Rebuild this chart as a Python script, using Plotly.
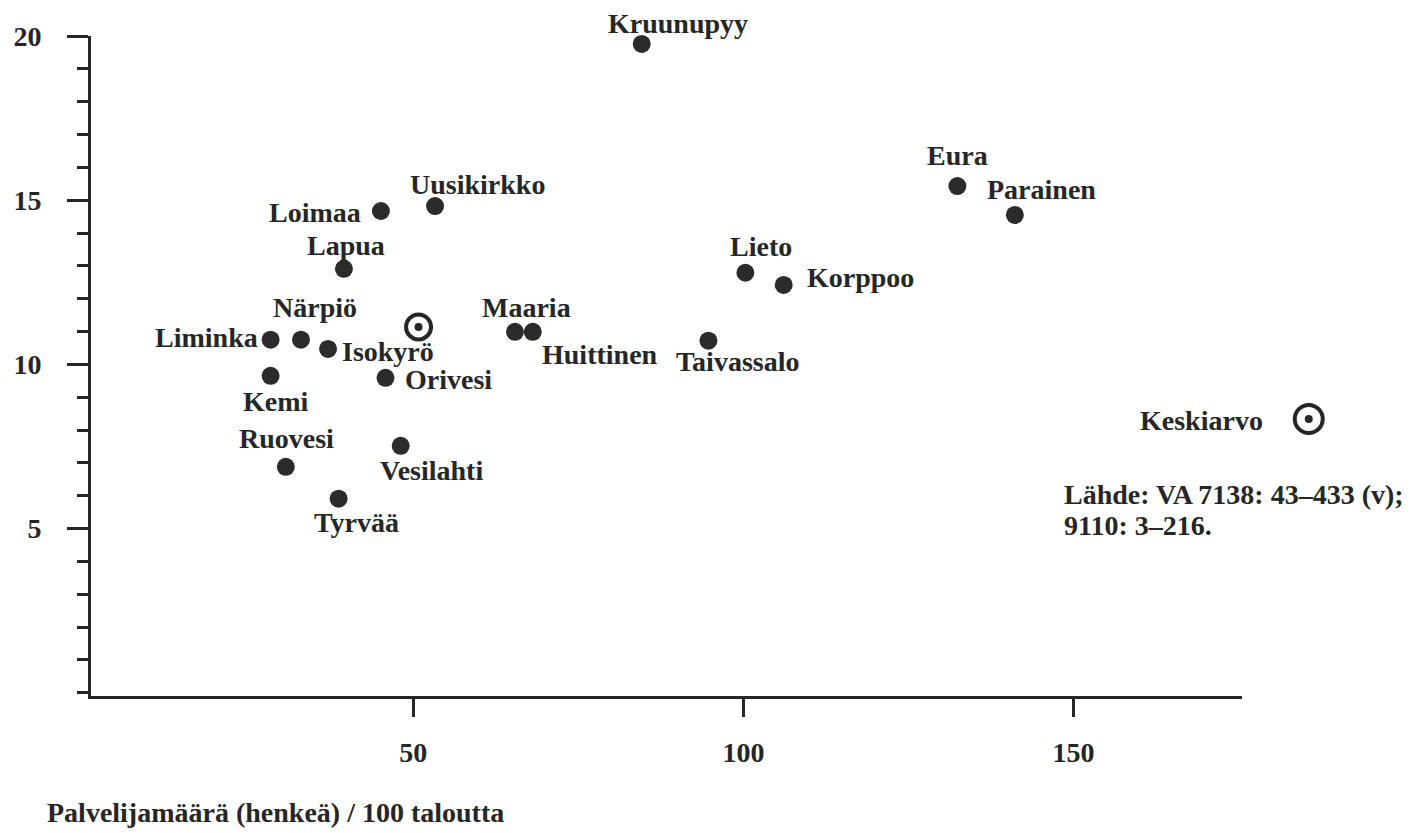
import plotly.graph_objects as go

# kunnat: palvelijamäärä / 100 taloutta (x) ja toinen suhdeluku (y)
kunnat = ["Kruunupyy", "Eura", "Parainen", "Uusikirkko", "Loimaa", "Lapua",
          "Lieto", "Korppoo", "Närpiö", "Liminka", "Isokyrö", "Maaria",
          "Huittinen", "Taivassalo", "Kemi", "Orivesi", "Vesilahti",
          "Ruovesi", "Tyrvää"]
x_arvot = [84.6, 132.4, 141.1, 53.3, 45.1, 39.5, 100.3, 106.1, 33.0, 28.4,
           37.1, 65.4, 68.1, 94.7, 28.4, 45.8, 48.1, 30.7, 38.7]
y_arvot = [19.76, 15.43, 14.55, 14.82, 14.67, 12.91, 12.79, 12.42, 10.75,
           10.75, 10.47, 10.99, 10.99, 10.72, 9.65, 9.59, 7.52, 6.88, 5.91]

keskiarvo_x = [50.8]
keskiarvo_y = [11.14]

x_ticks = [50, 100, 150]
y_ticks = [5, 10, 15, 20]

# label placement: pixel offset from marker + anchor
label_pos = {
    "Kruunupyy": (-35, 20, "left"), "Eura": (0, 31, "center"),
    "Parainen": (-29, 25, "left"), "Uusikirkko": (-26, 22, "left"),
    "Loimaa": (-19, -1, "right"), "Lapua": (-38, 23, "left"),
    "Lieto": (-16, 26, "left"), "Korppoo": (22, 7, "left"),
    "Närpiö": (-29, 32, "left"), "Liminka": (-12, 2, "right"),
    "Isokyrö": (13, -3, "left"), "Maaria": (-34, 24, "left"),
    "Huittinen": (8, -23, "left"), "Taivassalo": (-33, -21, "left"),
    "Kemi": (5, -26, "center"), "Orivesi": (18, -2, "left"),
    "Vesilahti": (-22, -25, "left"), "Ruovesi": (-48, 28, "left"),
    "Tyrvää": (-26, -24, "left"),
}

ink = "#262626"
serif = "Liberation Serif, Times New Roman, serif"
bold = dict(family=serif, size=28, color=ink, weight="bold")

fig = go.Figure()
fig.add_trace(go.Scatter(
    x=x_arvot, y=y_arvot, mode="markers", showlegend=False,
    marker=dict(size=18, color="#2b2b2b"), cliponaxis=False))
# keskiarvo: rengas + piste
fig.add_trace(go.Scatter(
    x=keskiarvo_x, y=keskiarvo_y, mode="markers", showlegend=False,
    marker=dict(size=25, color="white", line=dict(color=ink, width=4)),
    cliponaxis=False))
fig.add_trace(go.Scatter(
    x=keskiarvo_x, y=keskiarvo_y, mode="markers", showlegend=False,
    marker=dict(size=8, color=ink), cliponaxis=False))

for k, xv, yv in zip(kunnat, x_arvot, y_arvot):
    dx, dy, anchor = label_pos[k]
    fig.add_annotation(x=xv, y=yv, text=k, showarrow=False, xshift=dx,
                       yshift=dy, xanchor=anchor, yanchor="middle",
                       borderpad=0, font=bold)

# selite: Keskiarvo + symboli
fig.add_annotation(xref="paper", yref="paper", x=0.9097, y=0.4167,
                   text="Keskiarvo", showarrow=False, xanchor="left",
                   yanchor="middle", font=bold)
fig.add_shape(type="circle", xref="paper", yref="paper", xsizemode="pixel",
              ysizemode="pixel", xanchor=1.058, yanchor=0.4197,
              x0=-14, x1=14, y0=-14, y1=14, line=dict(color=ink, width=4),
              fillcolor="white")
fig.add_shape(type="circle", xref="paper", yref="paper", xsizemode="pixel",
              ysizemode="pixel", xanchor=1.058, yanchor=0.4197,
              x0=-4, x1=4, y0=-4, y1=4, line=dict(width=0), fillcolor=ink)

regular = dict(family=serif, size=28, color=ink)
fig.add_annotation(xref="paper", yref="paper", x=0.8436, y=0.306,
                   text="Lähde: VA 7138: 43–433 (v);", showarrow=False,
                   xanchor="left", yanchor="middle", font=regular)
fig.add_annotation(xref="paper", yref="paper", x=0.8436, y=0.2576,
                   text="9110: 3–216.", showarrow=False,
                   xanchor="left", yanchor="middle", font=regular)

fig.add_annotation(xref="paper", yref="paper", x=0, y=0, xshift=-46, yshift=-116,
                   text="Palvelijamäärä (henkeä) / 100 taloutta",
                   showarrow=False, xanchor="left", yanchor="middle", font=bold)

fig.update_layout(
    width=1406, height=825, plot_bgcolor="white", paper_bgcolor="white",
    margin=dict(l=83, r=172, t=28, b=137),
    font=bold, showlegend=False,
    xaxis=dict(range=[1.2, 175.5], tickvals=x_ticks, showgrid=False,
               zeroline=False, showline=True, linecolor=ink, linewidth=3,
               ticks="outside", ticklen=18, tickwidth=3, tickcolor=ink,
               ticklabelstandoff=11, automargin=False),
    yaxis=dict(range=[-0.1, 20], tickvals=y_ticks, showgrid=False,
               zeroline=False, showline=True, linecolor=ink, linewidth=3,
               ticks="outside", ticklen=21, tickwidth=3, tickcolor=ink,
               ticklabelstandoff=20, automargin=False,
               minor=dict(dtick=1, tick0=0, ticks="outside", ticklen=11,
                          tickwidth=3, tickcolor=ink, showgrid=False)),
)

fig.write_html("out.html")
